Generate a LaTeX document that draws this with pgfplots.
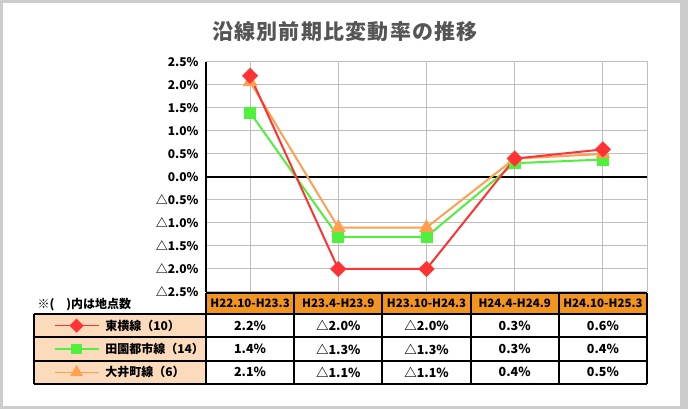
\documentclass[border=0pt]{standalone}
\usepackage{fontspec}
\setmainfont{Noto Sans CJK JP}
\usepackage{pgfplots}
\pgfplotsset{compat=1.18}

\definecolor{frameGray}{RGB}{204,204,204}
\definecolor{titleGray}{RGB}{85,85,85}
\definecolor{gridGray}{RGB}{190,190,190}
\definecolor{lnRed}{RGB}{255,51,51}
\definecolor{lnGreen}{RGB}{80,240,60}
\definecolor{lnOrange}{RGB}{255,160,80}
\definecolor{hdrOrange}{RGB}{242,148,32}
\definecolor{peach}{RGB}{252,218,188}

\begin{document}
\begin{tikzpicture}[x=1pt,y=1pt]
% frame
\fill[frameGray] (0,0) rectangle (688,409);
\fill[white] (3,3) rectangle (680,406);
\node[text=titleGray, font=\bfseries\fontsize{21}{24}\selectfont\addfontfeature{LetterSpace=6}]
  at (345,377) {沿線別前期比変動率の推移};

% table backgrounds (under the legend)
\fill[peach] (34,25) rectangle (206,95);
\fill[hdrOrange] (206,95) rectangle (647,116);

\begin{axis}[
  at={(206pt,117pt)}, anchor=south west,
  scale only axis, width=441pt, height=230pt,
  xmin=0.5, xmax=5.5, ymin=-2.5, ymax=2.5,
  xtick={1,2,3,4,5}, xticklabels={},
  ytick={-2.5,-2,-1.5,-1,-0.5,0,0.5,1,1.5,2,2.5},
  yticklabels={△2.5\%,△2.0\%,△1.5\%,△1.0\%,△0.5\%,0.0\%,0.5\%,1.0\%,1.5\%,2.0\%,2.5\%},
  yticklabel style={font=\bfseries\fontsize{12}{14}\selectfont, anchor=east, xshift=-4pt},
  major tick length=0pt,
  grid=major,
  grid style={gridGray, line width=1pt},
  axis line style={gridGray, line width=1pt},
  clip=false,
  legend style={draw=none, fill=none, inner sep=0pt, outer sep=0pt,
                at={(-0.345,-0.0957)}, anchor=north west,
                font=\bfseries\fontsize{12}{14}\selectfont,
                nodes={inner sep=0pt, text height=16.3pt, text depth=7pt},
                /tikz/every even column/.append style={column sep=17pt}},
  legend cell align=left,
  legend image code/.code={
    \draw[#1, mark repeat=2, mark phase=2] plot coordinates {(0pt,0pt) (22pt,0pt) (44pt,0pt)};
  },
]
\draw[black, line width=1.2pt] (axis cs:0.5,0) -- (axis cs:5.5,0);
\draw[black, line width=1.5pt] (axis cs:0.5,-2.5) -- (axis cs:0.5,2.5);

\addlegendimage{lnRed, line width=1.4pt, mark=square*, mark size=4.3pt, mark options={rotate=45}}
\addlegendentry{\hspace{6pt}東横線（10）}
\addlegendimage{lnGreen, line width=1.4pt, mark=square*, mark size=4.5pt}
\addlegendentry{\hspace{6pt}田園都市線（14）}
\addlegendimage{lnOrange, line width=1.4pt, mark=triangle*, mark size=6pt}
\addlegendentry{\hspace{6pt}大井町線（6）}

% green
\addplot[lnGreen, line width=2pt, mark=square*, mark size=5pt, forget plot] coordinates {
  (1,1.4) (2,-1.3) (3,-1.3) (4,0.3) (5,0.38)
};
% orange
\addplot[lnOrange, line width=2pt, mark=triangle*, mark size=6.5pt, forget plot] coordinates {
  (1,2.07) (2,-1.1) (3,-1.1) (4,0.4) (5,0.5)
};
% red
\addplot[lnRed, line width=2pt, mark=square*, mark size=4.7pt, mark options={rotate=45}, forget plot] coordinates {
  (1,2.2) (2,-2.0) (3,-2.0) (4,0.4) (5,0.6)
};
\end{axis}

% table lines
\begin{scope}[line width=2pt, black]
  \draw (206,116) -- (647,116);
  \draw (34,95) -- (647,95);
  \draw (34,71.7) -- (647,71.7);
  \draw (34,48.3) -- (647,48.3);
  \draw (34,25) -- (647,25);
  \draw (34,95) -- (34,25);
  \draw (206,116) -- (206,25);
  \draw (294.2,116) -- (294.2,25);
  \draw (382.4,116) -- (382.4,25);
  \draw (470.6,116) -- (470.6,25);
  \draw (558.8,116) -- (558.8,25);
  \draw (647,116) -- (647,25);
\end{scope}

\node[anchor=west, font=\bfseries\fontsize{12}{14}\selectfont] at (34,104) {※(　)内は地点数};

\begin{scope}[every node/.style={font=\bfseries\fontsize{11.5}{14}\selectfont}]
  \node at (250.1,105.5) {H22.10-H23.3};
  \node at (338.3,105.5) {H23.4-H23.9};
  \node at (426.5,105.5) {H23.10-H24.3};
  \node at (514.7,105.5) {H24.4-H24.9};
  \node at (602.9,105.5) {H24.10-H25.3};
\end{scope}
\begin{scope}[every node/.style={font=\bfseries\fontsize{12.5}{14}\selectfont}]
  \node at (250.1,83.3) {2.2\%};
  \node at (338.3,83.3) {△2.0\%};
  \node at (426.5,83.3) {△2.0\%};
  \node at (514.7,83.3) {0.3\%};
  \node at (602.9,83.3) {0.6\%};

  \node at (250.1,60) {1.4\%};
  \node at (338.3,60) {△1.3\%};
  \node at (426.5,60) {△1.3\%};
  \node at (514.7,60) {0.3\%};
  \node at (602.9,60) {0.4\%};

  \node at (250.1,36.7) {2.1\%};
  \node at (338.3,36.7) {△1.1\%};
  \node at (426.5,36.7) {△1.1\%};
  \node at (514.7,36.7) {0.4\%};
  \node at (602.9,36.7) {0.5\%};
\end{scope}
\end{tikzpicture}
\end{document}
